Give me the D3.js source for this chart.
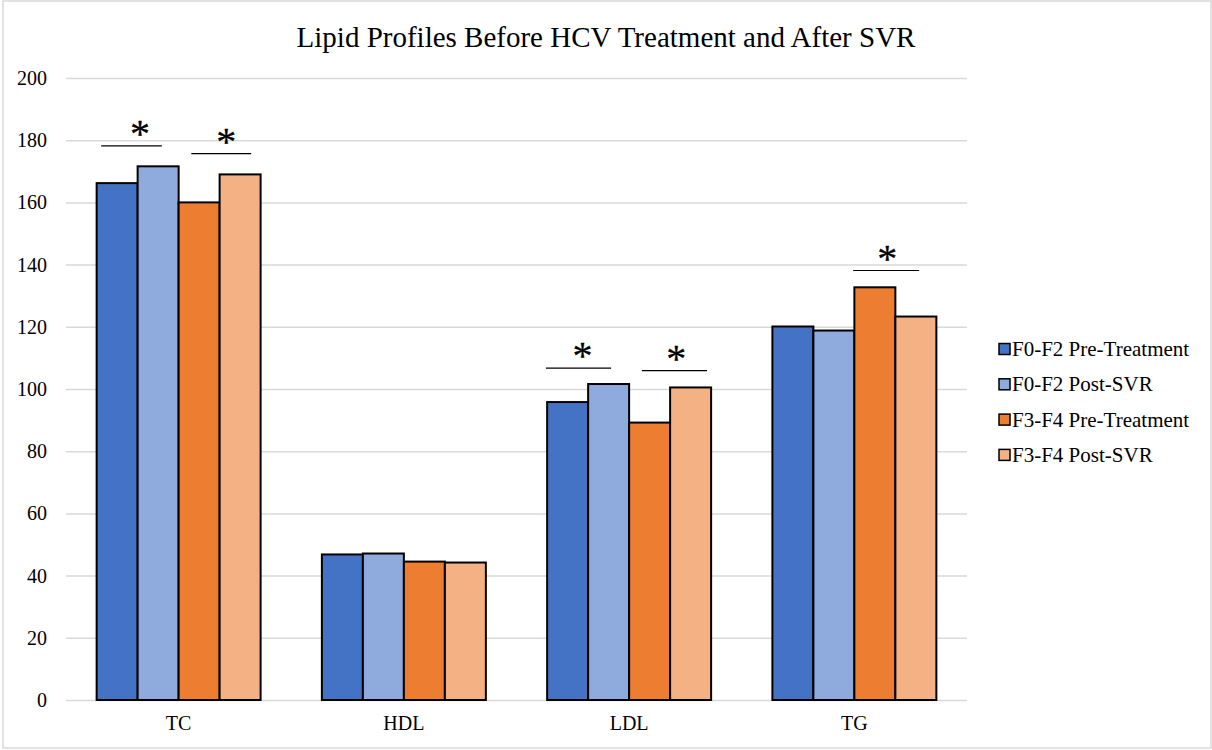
<!DOCTYPE html>
<html>
<head>
<meta charset="utf-8">
<script src="https://cdn.jsdelivr.net/npm/d3@7"></script>
<style>
  body { margin: 0; background: #fff; }
  svg text { font-family: "Liberation Serif", "Times New Roman", serif; fill: #000; }
</style>
</head>
<body>
<svg width="1212" height="750"></svg>
<script>
(() => {

    var width = 1212;
    var height = 750;
    var margin = {top: 78, bottom: 50, left: 66, right: 245};

    // data
    var categories = ["TC", "HDL", "LDL", "TG"];
    var series = ["F0-F2 Pre-Treatment", "F0-F2 Post-SVR", "F3-F4 Pre-Treatment", "F3-F4 Post-SVR"];
    var colors = ["#4472C4", "#8FAADC", "#ED7D31", "#F4B183"];
    var f0f2Pre = [166.2, 46.8, 95.8, 120.1];
    var f0f2Post = [171.6, 47.1, 101.6, 118.8];
    var f3f4Pre = [160.0, 44.5, 89.2, 132.7];
    var f3f4Post = [169.0, 44.2, 100.5, 123.3];
    var yTicks = [0, 20, 40, 60, 80, 100, 120, 140, 160, 180, 200];

    // significance marks: category, line start/end and star in bar units, line level in data units
    var sigCategory = ["TC", "TC", "LDL", "LDL", "TG"];
    var sigFrom = [0.11, 2.31, -0.03, 2.31, 1.97];
    var sigTo = [1.59, 3.77, 1.56, 3.9, 3.58];
    var sigStar = [1.06, 3.16, 0.86, 3.15, 2.8];
    var sigLevel = [178.2, 175.7, 106.7, 105.9, 138.1];

    var values = [f0f2Pre, f0f2Post, f3f4Pre, f3f4Post];
    var data = categories.map((c, i) => ({
        cat: c,
        vals: series.map((s, j) => ({key: s, value: values[j][i], color: colors[j]}))
    }));

    var svg = d3.select('svg');

    // chart border
    svg.append('rect')
        .attr('x', 3).attr('y', 1)
        .attr('width', 1208).attr('height', 747)
        .attr('fill', 'none')
        .attr('stroke', '#d9d9d9')
        .attr('stroke-width', 1.5);

    //scales
    var x0 = d3.scaleBand()
        .domain(categories)
        .range([margin.left, width - margin.right])
        .paddingInner(0.272)
        .paddingOuter(0.136);
    var x1 = d3.scaleBand()
        .domain(series)
        .range([0, x0.bandwidth()]);
    var yScale = d3.scaleLinear()
        .domain([0, 200])
        .range([height - margin.bottom, margin.top]);

    // gridlines
    var yAxis = d3.axisLeft(yScale)
        .tickValues(yTicks)
        .tickSize(-(width - margin.right - margin.left))
        .tickPadding(19);
    var gy = svg.append('g')
        .attr('transform', 'translate(' + [margin.left, 0] + ')')
        .call(yAxis)
        .attr('font-family', null);
    gy.select('.domain').remove();
    gy.selectAll('line').attr('stroke', '#d9d9d9').attr('stroke-width', 1.5);
    gy.selectAll('text').attr('font-size', 20).attr('fill', '#000');

    // bars
    var groups = svg.selectAll('g.cat')
        .data(data)
        .enter().append('g')
        .attr('class', 'cat')
        .attr('transform', d => 'translate(' + [x0(d.cat), 0] + ')');

    groups.selectAll('rect')
        .data(d => d.vals)
        .enter().append('rect')
        .attr('x', d => x1(d.key))
        .attr('y', d => yScale(d.value))
        .attr('width', x1.bandwidth())
        .attr('height', d => yScale(0) - yScale(d.value))
        .attr('fill', d => d.color)
        .attr('stroke', '#000')
        .attr('stroke-width', 2);

    // x axis labels
    var xAxis = d3.axisBottom(x0).tickSize(0).tickPadding(16);
    var gx = svg.append('g')
        .attr('transform', 'translate(' + [0, height - margin.bottom] + ')')
        .call(xAxis)
        .attr('font-family', null);
    gx.select('.domain').remove();
    gx.selectAll('text').attr('font-size', 20).attr('fill', '#000');

    // significance annotations
    var bw = x1.bandwidth();
    sigCategory.forEach((c, i) => {
        var gx0 = x0(c);
        var ly = yScale(sigLevel[i]);
        svg.append('line')
            .attr('x1', gx0 + sigFrom[i] * bw)
            .attr('x2', gx0 + sigTo[i] * bw)
            .attr('y1', ly).attr('y2', ly)
            .attr('stroke', '#000')
            .attr('stroke-width', 1.2);
        svg.append('text')
            .attr('x', gx0 + sigStar[i] * bw)
            .attr('y', ly + 1)
            .attr('text-anchor', 'middle')
            .attr('font-size', 40)
            .attr('stroke', '#000')
            .attr('stroke-width', 0.3)
            .text('*');
    });

    // title
    svg.append('text')
        .attr('x', 606)
        .attr('y', 47)
        .attr('text-anchor', 'middle')
        .attr('font-size', 29)
        .text('Lipid Profiles Before HCV Treatment and After SVR');

    // legend
    var legend = svg.selectAll('g.legend')
        .data(series)
        .enter().append('g')
        .attr('class', 'legend')
        .attr('transform', (d, i) => 'translate(' + [999, 349 + i * 35.3] + ')');
    legend.append('rect')
        .attr('x', 0).attr('y', -5.5)
        .attr('width', 11).attr('height', 11)
        .attr('fill', (d, i) => colors[i])
        .attr('stroke', '#000')
        .attr('stroke-width', 1.5);
    legend.append('text')
        .attr('x', 13)
        .attr('y', 7)
        .attr('font-size', 21)
        .text(d => d);

})();
</script>
</body>
</html>
